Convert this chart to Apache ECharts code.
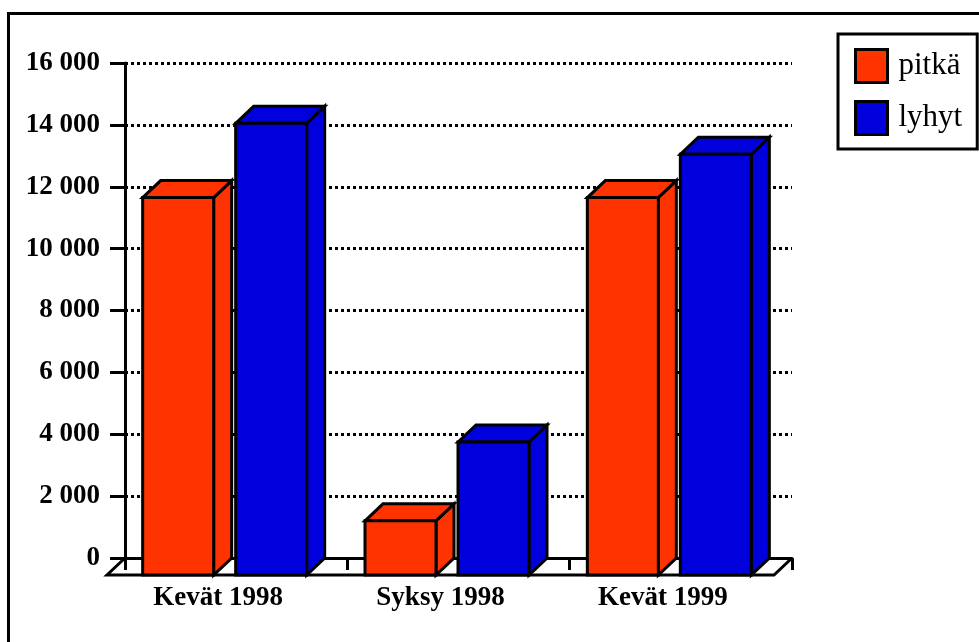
<!DOCTYPE html>
<html>
<head>
<meta charset="utf-8">
<title>pitkä / lyhyt</title>
<script src="https://cdn.jsdelivr.net/npm/echarts@6/dist/echarts.min.js"></script>
<style>
html, body { margin: 0; padding: 0; background: #fff; }
#main { width: 979px; height: 642px; }
</style>
</head>
<body>
<div id="main"></div>
<script>
// data
var categories = ['Kevät 1998', 'Syksy 1998', 'Kevät 1999'];
var pitka = [12200, 1750, 12200];
var lyhyt = [14600, 4300, 13600];
var yMax = 16000;
var yStep = 2000;

var RED = '#ff3300';
var BLUE = '#0000dd';
var FONT = 'Liberation Serif';
var DX = 18, DY = 17;   // 3d depth in px

function fmt(v) {
    return String(v).replace(/\B(?=(\d{3})+(?!\d))/g, ' ');
}

function faceStyle(color) {
    return { fill: color, stroke: '#000', lineWidth: 3 };
}

// one box per data item, front face on the front grid
function barItem(offL, offR) {
    return function (params, api) {
        var top = api.coord([api.value(0), api.value(1)]);
        var base = api.coord([api.value(0), 0]);
        var x0 = top[0] + offL, x1 = top[0] + offR;
        var yt = top[1], yb = base[1];
        var col = api.visual('color');
        return {
            type: 'group',
            children: [
                { type: 'polygon', shape: { points: [[x1, yt], [x1 + DX, yt - DY], [x1 + DX, yb - DY], [x1, yb]] }, style: faceStyle(col) },
                { type: 'polygon', shape: { points: [[x0, yt], [x0 + DX, yt - DY], [x1 + DX, yt - DY], [x1, yt]] }, style: faceStyle(col) },
                { type: 'rect', shape: { x: x0, y: yt, width: x1 - x0, height: yb - yt }, style: faceStyle(col) }
            ]
        };
    };
}

// floor edges (front line + two diagonals)
function floorItem(params, api) {
    var bw = api.size([1, 0])[0];
    var a = api.coord([0, 0]);
    var b = api.coord([categories.length - 1, 0]);
    var xl = a[0] - bw / 2, xr = b[0] + bw / 2, y = a[1];
    return {
        type: 'polyline',
        shape: { points: [[xl + DX, y - DY], [xl, y], [xr, y], [xr + DX, y - DY]] },
        style: { fill: null, stroke: '#000', lineWidth: 3 }
    };
}

var myChart = echarts.init(document.getElementById('main'));

var option = {
    animation: false,
    backgroundColor: '#fff',
    graphic: [{
        type: 'rect',
        shape: { x: 8.5, y: 13.5, width: 1200, height: 1000 },
        style: { fill: null, stroke: '#000', lineWidth: 3 },
        z: -1
    }],
    legend: {
        orient: 'vertical',
        left: 838,
        top: 34,
        padding: [14, 15, 13, 16],
        itemWidth: 32,
        itemHeight: 33,
        itemGap: 16,
        borderColor: '#000',
        borderWidth: 3,
        backgroundColor: '#fff',
        itemStyle: { borderColor: '#000', borderWidth: 3 },
        textStyle: { fontFamily: FONT, fontSize: 31, lineHeight: 30, color: '#000', padding: [0, 0, 0, 6] },
        data: [{ name: 'pitkä', icon: 'rect' }, { name: 'lyhyt', icon: 'rect' }]
    },
    grid: [
        // back wall
        { left: 125, right: 187, top: 63, bottom: 84 },
        // front plane
        { left: 107, right: 205, top: 80, bottom: 67 }
    ],
    xAxis: [
        {
            gridIndex: 0,
            type: 'category',
            data: categories,
            axisLine: { lineStyle: { color: '#000', width: 3 } },
            axisTick: { show: true, length: 12, lineStyle: { color: '#000', width: 3 } },
            axisLabel: { show: false },
            splitLine: { show: false }
        },
        {
            gridIndex: 1,
            type: 'category',
            data: categories,
            axisLine: { show: false },
            axisTick: { show: false },
            axisLabel: { fontFamily: FONT, fontWeight: 'bold', fontSize: 27, color: '#000', margin: 10 }
        }
    ],
    yAxis: [
        {
            gridIndex: 0,
            type: 'value',
            min: 0,
            max: yMax,
            interval: yStep,
            axisLine: { show: true, lineStyle: { color: '#000', width: 3 } },
            axisTick: { show: true, length: 15, lineStyle: { color: '#000', width: 3 } },
            axisLabel: { fontFamily: FONT, fontWeight: 'bold', fontSize: 27, color: '#000', margin: 25, formatter: fmt },
            splitLine: { show: true, lineStyle: { color: '#000', width: 3, type: [3, 3] } }
        },
        {
            gridIndex: 1,
            type: 'value',
            min: 0,
            max: yMax,
            interval: yStep,
            show: false,
            splitLine: { show: false }
        }
    ],
    series: [
        {
            name: 'floor',
            type: 'custom',
            xAxisIndex: 1,
            yAxisIndex: 1,
            renderItem: floorItem,
            data: [[0, 0]],
            z: 1,
            silent: true
        },
        {
            name: 'pitkä',
            type: 'custom',
            xAxisIndex: 1,
            yAxisIndex: 1,
            renderItem: barItem(-75.5, -4.5),
            itemStyle: { color: RED, borderColor: '#000', borderWidth: 3 },
            encode: { x: 0, y: 1 },
            data: pitka.map(function (v, i) { return [i, v]; }),
            z: 3
        },
        {
            name: 'lyhyt',
            type: 'custom',
            xAxisIndex: 1,
            yAxisIndex: 1,
            renderItem: barItem(17.5, 88.5),
            itemStyle: { color: BLUE, borderColor: '#000', borderWidth: 3 },
            encode: { x: 0, y: 1 },
            data: lyhyt.map(function (v, i) { return [i, v]; }),
            z: 3
        }
    ]
};

myChart.setOption(option);
window.onresize = myChart.resize;
</script>
</body>
</html>
